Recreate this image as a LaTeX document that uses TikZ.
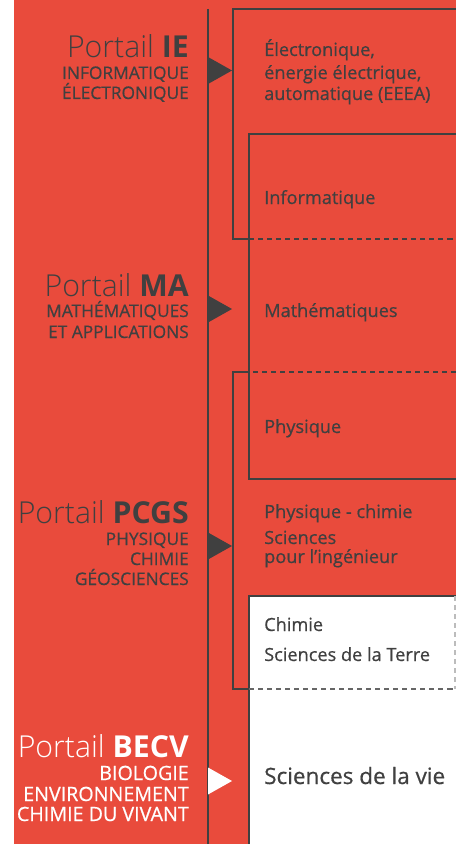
\documentclass[tikz,border=0pt]{standalone}
\usepackage{fontspec}
\setmainfont{Open Sans}
\newfontfamily\lightfont{Open Sans Light}
\newfontfamily\semifont{Open Sans}[FakeBold=0.6]
\usepackage{tikz}

\definecolor{rouge}{HTML}{E94B3C}
\definecolor{gris}{HTML}{404040}

\begin{document}
\begin{tikzpicture}[x=0.03cm,y=-0.03cm,
  portail/.style={anchor=base east,inner sep=0pt,text=gris,font=\lightfont\fontsize{25.8}{25.8}\selectfont},
  sous/.style={anchor=base east,inner sep=0pt,text=gris,font=\semifont\fontsize{14.8}{14.8}\selectfont},
  sousblanc/.style={sous,text=white,font=\semifont\fontsize{16.8}{16.8}\selectfont},
  filiere/.style={anchor=base west,inner sep=0pt,text=gris,font=\semifont\fontsize{15.5}{15.5}\selectfont},
  trait/.style={draw=gris,line width=0.9pt},
  tirets/.style={trait,dash pattern=on 4.3pt off 3.4pt}]
\useasboundingbox (0,0) rectangle (456,844);
\fill[rouge] (14,0) rectangle (456,844);
%
\fill[white] (249,596) rectangle (456,844);
\draw[trait] (456,596) -- (249,596) -- (249,844);
%
\draw[trait] (208,9) -- (208,844);
%
\draw[trait] (456,9) -- (233,9) -- (233,239) -- (249,239);
\draw[tirets] (249,239) -- (456,239);
%
\draw[trait] (456,134) -- (249,134) -- (249,479) -- (456,479);
%
\draw[tirets] (456,372) -- (249,372);
\draw[trait] (249,372) -- (233,372) -- (233,689) -- (249,689);
\draw[tirets,draw=gris!80] (249,689) -- (456,689);
\draw[tirets,draw=gris!35] (455,596) -- (455,689);
%
\foreach \y in {70.5,309,546} {
  \fill[gris] (208,\y-13.5) -- (232,\y) -- (208,\y+13.5) -- cycle;
}
\fill[white] (208,767.5) -- (232,781) -- (208,794.5) -- cycle;
%
\node[portail] (ie) at (189,58) {Portail {\normalfont\bfseries IE}};
\node[sous] (ieA) at (189,79) {INFORMATIQUE};
\node[sous] (ieB) at (189,99) {ÉLECTRONIQUE};
%
\node[portail] (ma) at (189,296) {Portail {\normalfont\bfseries MA}};
\node[sous] (maA) at (189,317) {MATHÉMATIQUES};
\node[sous] (maB) at (189,338) {ET APPLICATIONS};
%
\node[portail] (pcgs) at (189,523) {Portail {\normalfont\bfseries PCGS}};
\node[sous] (pcgsA) at (189,545) {PHYSIQUE};
\node[sous] (pcgsB) at (189,565) {CHIMIE};
\node[sous] (pcgsC) at (189,585) {GÉOSCIENCES};
%
\node[portail,text=white] (becv) at (189,757) {Portail {\normalfont\bfseries BECV}};
\node[sousblanc] (becvA) at (189,780) {BIOLOGIE};
\node[sousblanc] (becvB) at (189,801) {ENVIRONNEMENT};
\node[sousblanc] (becvC) at (189,821) {CHIMIE DU VIVANT};
%
\node[filiere] (eeeaA) at (264,56) {Électronique,};
\node[filiere] (eeeaB) at (264,79) {énergie électrique,};
\node[filiere] (eeeaC) at (264,100) {automatique (EEEA)};
%
\node[filiere] (info) at (264,204) {Informatique};
\node[filiere] (math) at (264,317) {Mathématiques};
\node[filiere] (phys) at (264,433) {Physique};
%
\node[filiere] (pcA) at (264,518) {Physique - chimie};
\node[filiere] (pcB) at (264,544) {Sciences};
\node[filiere] (pcC) at (264,563) {pour l’ingénieur};
%
\node[filiere] (chim) at (264,631) {Chimie};
\node[filiere] (terre) at (264,661) {Sciences de la Terre};
%
\node[filiere,font=\semifont\fontsize{19.2}{19.2}\selectfont] (vie) at (264,784) {Sciences de la vie};
\end{tikzpicture}
\end{document}
